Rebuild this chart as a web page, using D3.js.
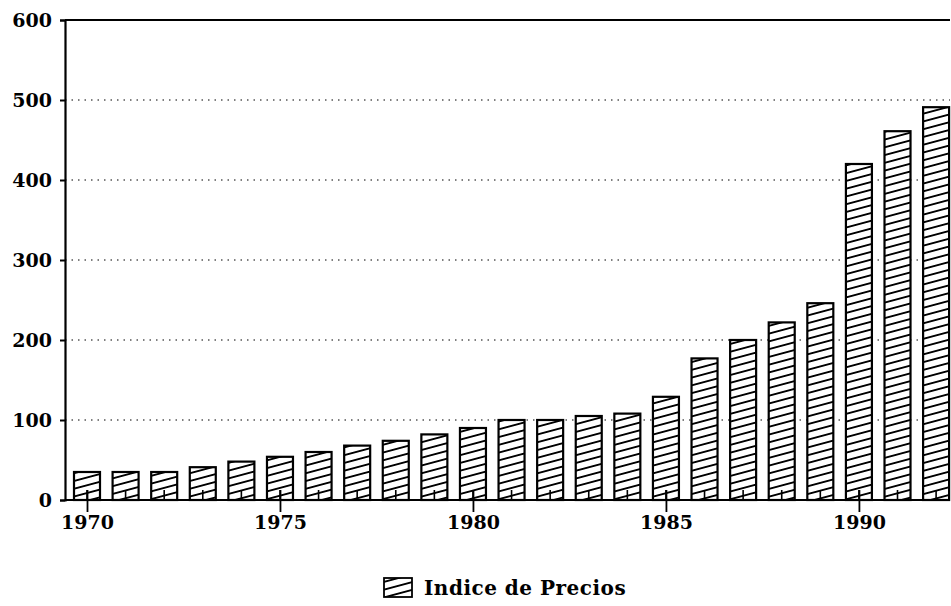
<!DOCTYPE html>
<html>
<head>
<meta charset="utf-8">
<script src="https://cdn.jsdelivr.net/npm/d3@7"></script>
<style>
  body { margin: 0; background: #fff; }
  text { font-family: "DejaVu Serif", serif; font-weight: bold; fill: #000; }
</style>
</head>
<body>
<div id="chart"></div>
<script>
const years = d3.range(1970, 1993);
const values = [35, 35, 35, 41, 48, 54, 60, 68, 74, 82, 90, 100, 100, 105, 108, 129, 177, 200, 222, 246, 420, 461, 491];
const yTicks = [0, 100, 200, 300, 400, 500, 600];
const xTicks = [1970, 1975, 1980, 1985, 1990];
const seriesName = 'Indice de Precios';

const width = 951, height = 606;
const plotL = 65, plotR = 950, plotT = 20, plotB = 500;

const svg = d3.select('#chart').append('svg')
    .attr('width', width)
    .attr('height', height);

const defs = svg.append('defs');
const pat = defs.append('pattern')
    .attr('id', 'hatch')
    .attr('patternUnits', 'userSpaceOnUse')
    .attr('width', 40)
    .attr('height', 7.5)
    .attr('patternTransform', 'rotate(-15)');
pat.append('rect').attr('width', 40).attr('height', 7.5).attr('fill', '#fff');
pat.append('line')
    .attr('x1', 0).attr('x2', 40).attr('y1', 3.75).attr('y2', 3.75)
    .attr('stroke', '#000').attr('stroke-width', 1.8);

const x = d3.scaleLinear().domain([1969.43, 1992.36]).range([plotL, plotR]);
const y = d3.scaleLinear().domain([0, 600]).range([plotB, plotT]);
const barW = 26;

// dotted gridlines
svg.append('g')
  .selectAll('line')
  .data(yTicks.filter(d => d > 0 && d < 600))
  .join('line')
    .attr('x1', plotL).attr('x2', plotR)
    .attr('y1', d => y(d)).attr('y2', d => y(d))
    .attr('stroke', '#000')
    .attr('stroke-width', 1.2)
    .attr('stroke-dasharray', '1.5 5');

// top frame line
svg.append('line')
    .attr('x1', plotL).attr('x2', plotR)
    .attr('y1', y(600)).attr('y2', y(600))
    .attr('stroke', '#000').attr('stroke-width', 2);

// bars
svg.append('g')
  .selectAll('rect')
  .data(years)
  .join('rect')
    .attr('x', d => x(d) - barW / 2)
    .attr('y', (d, i) => y(values[i]))
    .attr('width', barW)
    .attr('height', (d, i) => y(0) - y(values[i]))
    .attr('fill', 'url(#hatch)')
    .attr('stroke', '#000')
    .attr('stroke-width', 2.2);

// minor ticks at every year (inward)
svg.append('g')
  .selectAll('line')
  .data(years)
  .join('line')
    .attr('x1', d => x(d)).attr('x2', d => x(d))
    .attr('y1', plotB - 10).attr('y2', plotB)
    .attr('stroke', '#000').attr('stroke-width', 1.6);

// y axis
const yAxis = svg.append('g')
    .attr('transform', `translate(${plotL},0)`)
    .call(d3.axisLeft(y).tickValues(yTicks).tickSize(5).tickPadding(8));
yAxis.select('.domain').attr('stroke-width', 2.2);
yAxis.selectAll('.tick line').attr('stroke-width', 2);
yAxis.selectAll('text').style('font-size', '19px').attr('dy', '0.35em');

// x axis
const xAxis = svg.append('g')
    .attr('transform', `translate(0,${plotB})`)
    .call(d3.axisBottom(x).tickValues(xTicks).tickFormat(d3.format('d')).tickSize(12).tickSizeOuter(0).tickPadding(4));
xAxis.select('.domain').attr('d', `M${plotL},0H${plotR}`).attr('stroke-width', 2.2);
xAxis.selectAll('.tick line').attr('y1', -10).attr('stroke-width', 1.8);
xAxis.selectAll('text').style('font-size', '19px');

// legend
const lg = svg.append('g').attr('transform', 'translate(384,578)');
lg.append('rect')
    .attr('width', 28).attr('height', 19)
    .attr('fill', 'url(#hatch)')
    .attr('stroke', '#000').attr('stroke-width', 1.8);
lg.append('text')
    .attr('x', 40).attr('y', 17)
    .style('font-size', '20px')
    .style('letter-spacing', '0.5px')
    .text(seriesName);
</script>
</body>
</html>
